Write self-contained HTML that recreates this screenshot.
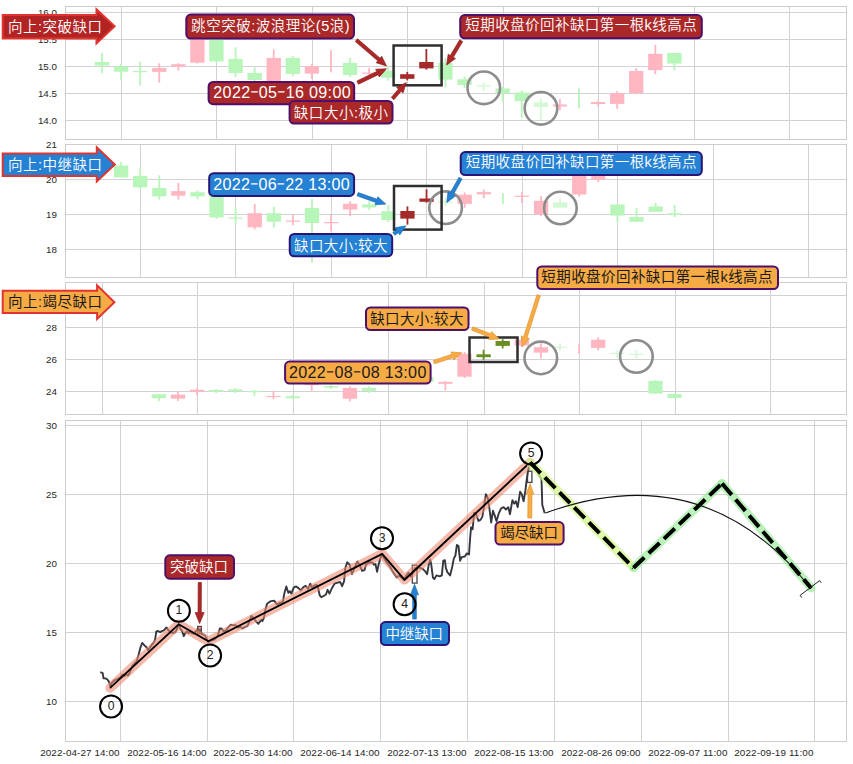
<!DOCTYPE html>
<html><head><meta charset="utf-8"><style>
html,body{margin:0;padding:0;background:#fff;}
svg{display:block;font-family:'Liberation Sans', 'Noto Sans CJK SC', sans-serif;}
</style></head><body>
<svg width="853" height="764" viewBox="0 0 853 764">
<rect width="853" height="764" fill="#fff"/>
<line x1="65.5" y1="12.5" x2="846.5" y2="12.5" stroke="#d2d2d2" stroke-width="1"/>
<text x="57" y="16.0" text-anchor="end" font-size="9.8" fill="#262626">16.0</text>
<line x1="65.5" y1="39.5" x2="846.5" y2="39.5" stroke="#d2d2d2" stroke-width="1"/>
<text x="57" y="43.0" text-anchor="end" font-size="9.8" fill="#262626">15.5</text>
<line x1="65.5" y1="66.5" x2="846.5" y2="66.5" stroke="#d2d2d2" stroke-width="1"/>
<text x="57" y="70.0" text-anchor="end" font-size="9.8" fill="#262626">15.0</text>
<line x1="65.5" y1="93.5" x2="846.5" y2="93.5" stroke="#d2d2d2" stroke-width="1"/>
<text x="57" y="97.0" text-anchor="end" font-size="9.8" fill="#262626">14.5</text>
<line x1="65.5" y1="120.5" x2="846.5" y2="120.5" stroke="#d2d2d2" stroke-width="1"/>
<text x="57" y="124.0" text-anchor="end" font-size="9.8" fill="#262626">14.0</text>
<line x1="121.50" y1="6.5" x2="121.50" y2="139.5" stroke="#d2d2d2" stroke-width="1"/>
<line x1="216.50" y1="6.5" x2="216.50" y2="139.5" stroke="#d2d2d2" stroke-width="1"/>
<line x1="312.50" y1="6.5" x2="312.50" y2="139.5" stroke="#d2d2d2" stroke-width="1"/>
<line x1="407.50" y1="6.5" x2="407.50" y2="139.5" stroke="#d2d2d2" stroke-width="1"/>
<line x1="503.50" y1="6.5" x2="503.50" y2="139.5" stroke="#d2d2d2" stroke-width="1"/>
<line x1="598.50" y1="6.5" x2="598.50" y2="139.5" stroke="#d2d2d2" stroke-width="1"/>
<line x1="694.50" y1="6.5" x2="694.50" y2="139.5" stroke="#d2d2d2" stroke-width="1"/>
<line x1="789.50" y1="6.5" x2="789.50" y2="139.5" stroke="#d2d2d2" stroke-width="1"/>
<rect x="65.5" y="6.5" width="781.0" height="133.0" fill="none" stroke="#cdcdcd" stroke-width="1"/>
<line x1="65.5" y1="144.5" x2="846.5" y2="144.5" stroke="#d2d2d2" stroke-width="1"/>
<text x="57" y="148.0" text-anchor="end" font-size="9.8" fill="#262626">21</text>
<line x1="65.5" y1="179.5" x2="846.5" y2="179.5" stroke="#d2d2d2" stroke-width="1"/>
<text x="57" y="183.0" text-anchor="end" font-size="9.8" fill="#262626">20</text>
<line x1="65.5" y1="214.5" x2="846.5" y2="214.5" stroke="#d2d2d2" stroke-width="1"/>
<text x="57" y="218.0" text-anchor="end" font-size="9.8" fill="#262626">19</text>
<line x1="65.5" y1="249.5" x2="846.5" y2="249.5" stroke="#d2d2d2" stroke-width="1"/>
<text x="57" y="253.0" text-anchor="end" font-size="9.8" fill="#262626">18</text>
<line x1="140.50" y1="144.5" x2="140.50" y2="277.5" stroke="#d2d2d2" stroke-width="1"/>
<line x1="235.50" y1="144.5" x2="235.50" y2="277.5" stroke="#d2d2d2" stroke-width="1"/>
<line x1="331.50" y1="144.5" x2="331.50" y2="277.5" stroke="#d2d2d2" stroke-width="1"/>
<line x1="426.50" y1="144.5" x2="426.50" y2="277.5" stroke="#d2d2d2" stroke-width="1"/>
<line x1="522.50" y1="144.5" x2="522.50" y2="277.5" stroke="#d2d2d2" stroke-width="1"/>
<line x1="617.50" y1="144.5" x2="617.50" y2="277.5" stroke="#d2d2d2" stroke-width="1"/>
<line x1="713.50" y1="144.5" x2="713.50" y2="277.5" stroke="#d2d2d2" stroke-width="1"/>
<line x1="808.50" y1="144.5" x2="808.50" y2="277.5" stroke="#d2d2d2" stroke-width="1"/>
<rect x="65.5" y="144.5" width="781.0" height="133.0" fill="none" stroke="#cdcdcd" stroke-width="1"/>
<line x1="65.5" y1="295.5" x2="846.5" y2="295.5" stroke="#d2d2d2" stroke-width="1"/>
<text x="57" y="299.0" text-anchor="end" font-size="9.8" fill="#262626">30</text>
<line x1="65.5" y1="327.5" x2="846.5" y2="327.5" stroke="#d2d2d2" stroke-width="1"/>
<text x="57" y="331.0" text-anchor="end" font-size="9.8" fill="#262626">28</text>
<line x1="65.5" y1="359.5" x2="846.5" y2="359.5" stroke="#d2d2d2" stroke-width="1"/>
<text x="57" y="363.0" text-anchor="end" font-size="9.8" fill="#262626">26</text>
<line x1="65.5" y1="391.5" x2="846.5" y2="391.5" stroke="#d2d2d2" stroke-width="1"/>
<text x="57" y="395.0" text-anchor="end" font-size="9.8" fill="#262626">24</text>
<line x1="102.50" y1="282.5" x2="102.50" y2="414.5" stroke="#d2d2d2" stroke-width="1"/>
<line x1="197.50" y1="282.5" x2="197.50" y2="414.5" stroke="#d2d2d2" stroke-width="1"/>
<line x1="293.50" y1="282.5" x2="293.50" y2="414.5" stroke="#d2d2d2" stroke-width="1"/>
<line x1="388.50" y1="282.5" x2="388.50" y2="414.5" stroke="#d2d2d2" stroke-width="1"/>
<line x1="484.50" y1="282.5" x2="484.50" y2="414.5" stroke="#d2d2d2" stroke-width="1"/>
<line x1="579.50" y1="282.5" x2="579.50" y2="414.5" stroke="#d2d2d2" stroke-width="1"/>
<line x1="675.50" y1="282.5" x2="675.50" y2="414.5" stroke="#d2d2d2" stroke-width="1"/>
<line x1="770.50" y1="282.5" x2="770.50" y2="414.5" stroke="#d2d2d2" stroke-width="1"/>
<rect x="65.5" y="282.5" width="781.0" height="132.0" fill="none" stroke="#cdcdcd" stroke-width="1"/>
<line x1="65.5" y1="425.5" x2="846.5" y2="425.5" stroke="#d2d2d2" stroke-width="1"/>
<text x="57" y="429.0" text-anchor="end" font-size="9.8" fill="#262626">30</text>
<line x1="65.5" y1="494.5" x2="846.5" y2="494.5" stroke="#d2d2d2" stroke-width="1"/>
<text x="57" y="498.0" text-anchor="end" font-size="9.8" fill="#262626">25</text>
<line x1="65.5" y1="563.5" x2="846.5" y2="563.5" stroke="#d2d2d2" stroke-width="1"/>
<text x="57" y="567.0" text-anchor="end" font-size="9.8" fill="#262626">20</text>
<line x1="65.5" y1="632.5" x2="846.5" y2="632.5" stroke="#d2d2d2" stroke-width="1"/>
<text x="57" y="636.0" text-anchor="end" font-size="9.8" fill="#262626">15</text>
<line x1="65.5" y1="701.5" x2="846.5" y2="701.5" stroke="#d2d2d2" stroke-width="1"/>
<text x="57" y="705.0" text-anchor="end" font-size="9.8" fill="#262626">10</text>
<line x1="120.50" y1="420.5" x2="120.50" y2="741.5" stroke="#d2d2d2" stroke-width="1"/>
<line x1="207.50" y1="420.5" x2="207.50" y2="741.5" stroke="#d2d2d2" stroke-width="1"/>
<line x1="293.50" y1="420.5" x2="293.50" y2="741.5" stroke="#d2d2d2" stroke-width="1"/>
<line x1="380.50" y1="420.5" x2="380.50" y2="741.5" stroke="#d2d2d2" stroke-width="1"/>
<line x1="467.50" y1="420.5" x2="467.50" y2="741.5" stroke="#d2d2d2" stroke-width="1"/>
<line x1="554.50" y1="420.5" x2="554.50" y2="741.5" stroke="#d2d2d2" stroke-width="1"/>
<line x1="641.50" y1="420.5" x2="641.50" y2="741.5" stroke="#d2d2d2" stroke-width="1"/>
<line x1="728.50" y1="420.5" x2="728.50" y2="741.5" stroke="#d2d2d2" stroke-width="1"/>
<line x1="814.50" y1="420.5" x2="814.50" y2="741.5" stroke="#d2d2d2" stroke-width="1"/>
<rect x="65.5" y="420.5" width="781.0" height="321.0" fill="none" stroke="#cdcdcd" stroke-width="1"/>
<text x="40.2" y="756" font-size="9.9" fill="#262626" textLength="79.3" lengthAdjust="spacing">2022-04-27 14:00</text>
<text x="127.2" y="756" font-size="9.9" fill="#262626" textLength="79.3" lengthAdjust="spacing">2022-05-16 14:00</text>
<text x="213.2" y="756" font-size="9.9" fill="#262626" textLength="79.3" lengthAdjust="spacing">2022-05-30 14:00</text>
<text x="300.2" y="756" font-size="9.9" fill="#262626" textLength="79.3" lengthAdjust="spacing">2022-06-14 14:00</text>
<text x="387.2" y="756" font-size="9.9" fill="#262626" textLength="79.3" lengthAdjust="spacing">2022-07-13 13:00</text>
<text x="474.2" y="756" font-size="9.9" fill="#262626" textLength="79.3" lengthAdjust="spacing">2022-08-15 13:00</text>
<text x="561.2" y="756" font-size="9.9" fill="#262626" textLength="79.3" lengthAdjust="spacing">2022-08-26 09:00</text>
<text x="648.2" y="756" font-size="9.9" fill="#262626" textLength="79.3" lengthAdjust="spacing">2022-09-07 11:00</text>
<text x="734.2" y="756" font-size="9.9" fill="#262626" textLength="79.3" lengthAdjust="spacing">2022-09-19 11:00</text>
<rect x="101.10" y="53.2" width="1.8" height="20.00" fill="#b8f5b8"/>
<rect x="94.85" y="62" width="14.3" height="3.50" fill="#b8f5b8"/>
<rect x="120.18" y="63.8" width="1.8" height="15.80" fill="#b8f5b8"/>
<rect x="113.93" y="66.7" width="14.3" height="5.00" fill="#b8f5b8"/>
<rect x="139.26" y="61.6" width="1.8" height="23.80" fill="#b8f5b8"/>
<rect x="133.01" y="71" width="14.3" height="1.20" fill="#b8f5b8"/>
<rect x="158.34" y="63.3" width="1.8" height="19.30" fill="#ffb6c1"/>
<rect x="152.09" y="68" width="14.3" height="3.90" fill="#ffb6c1"/>
<rect x="177.42" y="63.3" width="1.8" height="7.30" fill="#ffb6c1"/>
<rect x="171.17" y="64.2" width="14.3" height="2.30" fill="#ffb6c1"/>
<rect x="196.50" y="38" width="1.8" height="25.50" fill="#ffb6c1"/>
<rect x="190.25" y="38" width="14.3" height="24.70" fill="#ffb6c1"/>
<rect x="215.58" y="38" width="1.8" height="24.70" fill="#b8f5b8"/>
<rect x="209.33" y="38" width="14.3" height="23.40" fill="#b8f5b8"/>
<rect x="234.66" y="47.3" width="1.8" height="29.60" fill="#b8f5b8"/>
<rect x="228.41" y="58.9" width="14.3" height="14.10" fill="#b8f5b8"/>
<rect x="253.74" y="67.2" width="1.8" height="15.80" fill="#b8f5b8"/>
<rect x="247.49" y="73" width="14.3" height="7.00" fill="#b8f5b8"/>
<rect x="272.82" y="49.5" width="1.8" height="33.50" fill="#ffb6c1"/>
<rect x="266.57" y="57.9" width="14.3" height="23.10" fill="#ffb6c1"/>
<rect x="291.90" y="56" width="1.8" height="20.40" fill="#b8f5b8"/>
<rect x="285.65" y="57.9" width="14.3" height="16.00" fill="#b8f5b8"/>
<rect x="310.98" y="64" width="1.8" height="15.20" fill="#ffb6c1"/>
<rect x="304.73" y="66.2" width="14.3" height="7.40" fill="#ffb6c1"/>
<rect x="330.06" y="50.2" width="1.8" height="22.10" fill="#ffb6c1"/>
<rect x="349.14" y="57.9" width="1.8" height="19.00" fill="#b8f5b8"/>
<rect x="342.89" y="62.9" width="14.3" height="12.00" fill="#b8f5b8"/>
<rect x="368.22" y="67.8" width="1.8" height="7.20" fill="#ffb6c1"/>
<rect x="361.97" y="72.6" width="14.3" height="1.20" fill="#ffb6c1"/>
<rect x="387.30" y="67" width="1.8" height="13.70" fill="#b8f5b8"/>
<rect x="381.05" y="70.8" width="14.3" height="6.90" fill="#b8f5b8"/>
<rect x="406.38" y="71.9" width="1.8" height="8.40" fill="#a52a2a"/>
<rect x="400.13" y="74.2" width="14.3" height="4.60" fill="#a52a2a"/>
<rect x="425.46" y="49" width="1.8" height="20.60" fill="#a52a2a"/>
<rect x="419.21" y="62" width="14.3" height="6.40" fill="#a52a2a"/>
<rect x="444.54" y="58" width="1.8" height="29.20" fill="#b8f5b8"/>
<rect x="438.29" y="62.9" width="14.3" height="16.70" fill="#b8f5b8"/>
<rect x="463.62" y="76.6" width="1.8" height="11.40" fill="#b8f5b8"/>
<rect x="457.37" y="79.3" width="14.3" height="5.70" fill="#b8f5b8"/>
<rect x="482.70" y="82.7" width="1.8" height="8.30" fill="#d4f8d4"/>
<rect x="476.45" y="85.2" width="14.3" height="1.20" fill="#d4f8d4"/>
<rect x="501.78" y="87.2" width="1.8" height="14.50" fill="#b8f5b8"/>
<rect x="495.53" y="88.5" width="14.3" height="4.80" fill="#b8f5b8"/>
<rect x="520.86" y="90.3" width="1.8" height="27.40" fill="#b8f5b8"/>
<rect x="514.61" y="92.6" width="14.3" height="8.40" fill="#b8f5b8"/>
<rect x="539.94" y="98.7" width="1.8" height="21.30" fill="#d4f8d4"/>
<rect x="533.69" y="102.5" width="14.3" height="4.50" fill="#d4f8d4"/>
<rect x="559.02" y="98.9" width="1.8" height="11.50" fill="#ffb6c1"/>
<rect x="552.77" y="104.5" width="14.3" height="2.00" fill="#ffb6c1"/>
<rect x="578.10" y="88.3" width="1.8" height="20.20" fill="#b8f5b8"/>
<rect x="597.18" y="100.6" width="1.8" height="5.70" fill="#ffb6c1"/>
<rect x="590.93" y="102" width="14.3" height="2.00" fill="#ffb6c1"/>
<rect x="616.26" y="91.1" width="1.8" height="17.70" fill="#ffb6c1"/>
<rect x="610.01" y="93.2" width="14.3" height="10.70" fill="#ffb6c1"/>
<rect x="635.34" y="68.1" width="1.8" height="26.20" fill="#ffb6c1"/>
<rect x="629.09" y="71" width="14.3" height="22.20" fill="#ffb6c1"/>
<rect x="654.42" y="44.8" width="1.8" height="29.50" fill="#ffb6c1"/>
<rect x="648.17" y="53.8" width="14.3" height="16.40" fill="#ffb6c1"/>
<rect x="673.50" y="53" width="1.8" height="17.20" fill="#b8f5b8"/>
<rect x="667.25" y="53" width="14.3" height="10.60" fill="#b8f5b8"/>
<rect x="120.20" y="162" width="1.8" height="15.40" fill="#b8f5b8"/>
<rect x="113.95" y="165.5" width="14.3" height="11.90" fill="#b8f5b8"/>
<rect x="139.29" y="168.3" width="1.8" height="20.70" fill="#b8f5b8"/>
<rect x="133.04" y="176" width="14.3" height="11.30" fill="#b8f5b8"/>
<rect x="158.38" y="175.3" width="1.8" height="24.20" fill="#b8f5b8"/>
<rect x="152.13" y="188" width="14.3" height="8.40" fill="#b8f5b8"/>
<rect x="177.47" y="183" width="1.8" height="16.50" fill="#ffb6c1"/>
<rect x="171.22" y="191.1" width="14.3" height="4.60" fill="#ffb6c1"/>
<rect x="196.56" y="190.5" width="1.8" height="8.70" fill="#b8f5b8"/>
<rect x="190.31" y="192.2" width="14.3" height="4.20" fill="#b8f5b8"/>
<rect x="215.65" y="196" width="1.8" height="23.00" fill="#b8f5b8"/>
<rect x="209.40" y="196" width="14.3" height="21.40" fill="#b8f5b8"/>
<rect x="234.74" y="208.3" width="1.8" height="15.50" fill="#b8f5b8"/>
<rect x="228.49" y="217.5" width="14.3" height="1.20" fill="#b8f5b8"/>
<rect x="253.83" y="204.1" width="1.8" height="25.30" fill="#ffb6c1"/>
<rect x="247.58" y="213.2" width="14.3" height="14.10" fill="#ffb6c1"/>
<rect x="272.92" y="206.9" width="1.8" height="20.40" fill="#b8f5b8"/>
<rect x="266.67" y="213.2" width="14.3" height="8.50" fill="#b8f5b8"/>
<rect x="292.01" y="214.6" width="1.8" height="10.60" fill="#ffb6c1"/>
<rect x="285.76" y="220.5" width="14.3" height="1.20" fill="#ffb6c1"/>
<rect x="311.10" y="198.75" width="1.8" height="63.75" fill="#b8f5b8"/>
<rect x="304.85" y="208" width="14.3" height="15.00" fill="#b8f5b8"/>
<rect x="330.19" y="214.5" width="1.8" height="16.75" fill="#ffb6c1"/>
<rect x="323.94" y="222" width="14.3" height="1.20" fill="#ffb6c1"/>
<rect x="349.28" y="201.25" width="1.8" height="15.00" fill="#ffb6c1"/>
<rect x="343.03" y="203.75" width="14.3" height="5.75" fill="#ffb6c1"/>
<rect x="368.37" y="201" width="1.8" height="9.00" fill="#b8f5b8"/>
<rect x="362.12" y="204.5" width="14.3" height="3.00" fill="#b8f5b8"/>
<rect x="387.46" y="205" width="1.8" height="17.00" fill="#b8f5b8"/>
<rect x="381.21" y="211.25" width="14.3" height="8.75" fill="#b8f5b8"/>
<rect x="406.55" y="206.4" width="1.8" height="18.30" fill="#a52a2a"/>
<rect x="400.30" y="211" width="14.3" height="7.60" fill="#a52a2a"/>
<rect x="425.64" y="189.3" width="1.8" height="13.30" fill="#a52a2a"/>
<rect x="419.39" y="198.5" width="14.3" height="3.30" fill="#a52a2a"/>
<rect x="444.73" y="198" width="1.8" height="8.00" fill="#d4f8d4"/>
<rect x="438.48" y="201.5" width="14.3" height="1.50" fill="#d4f8d4"/>
<rect x="463.82" y="192.4" width="1.8" height="15.30" fill="#ffb6c1"/>
<rect x="457.57" y="194.7" width="14.3" height="9.20" fill="#ffb6c1"/>
<rect x="482.91" y="189.4" width="1.8" height="8.80" fill="#ffb6c1"/>
<rect x="476.66" y="192.1" width="14.3" height="2.20" fill="#ffb6c1"/>
<rect x="502.00" y="193.2" width="1.8" height="10.70" fill="#b8f5b8"/>
<rect x="521.09" y="192.4" width="1.8" height="10.70" fill="#ffb6c1"/>
<rect x="514.84" y="195.7" width="14.3" height="1.20" fill="#ffb6c1"/>
<rect x="540.18" y="196.2" width="1.8" height="19.80" fill="#ffb6c1"/>
<rect x="533.93" y="200.8" width="14.3" height="13.70" fill="#ffb6c1"/>
<rect x="559.27" y="198.5" width="1.8" height="9.20" fill="#d4f8d4"/>
<rect x="553.02" y="202.3" width="14.3" height="5.40" fill="#d4f8d4"/>
<rect x="578.36" y="176" width="1.8" height="20.60" fill="#ffb6c1"/>
<rect x="572.11" y="176" width="14.3" height="18.50" fill="#ffb6c1"/>
<rect x="597.45" y="175" width="1.8" height="7.10" fill="#ffb6c1"/>
<rect x="591.20" y="176" width="14.3" height="3.50" fill="#ffb6c1"/>
<rect x="616.54" y="204.5" width="1.8" height="18.00" fill="#b8f5b8"/>
<rect x="610.29" y="204.5" width="14.3" height="11.10" fill="#b8f5b8"/>
<rect x="635.63" y="208" width="1.8" height="13.70" fill="#b8f5b8"/>
<rect x="629.38" y="217.1" width="14.3" height="4.60" fill="#b8f5b8"/>
<rect x="654.72" y="202.7" width="1.8" height="9.10" fill="#b8f5b8"/>
<rect x="648.47" y="206.5" width="14.3" height="5.30" fill="#b8f5b8"/>
<rect x="673.81" y="205" width="1.8" height="12.10" fill="#b8f5b8"/>
<rect x="667.56" y="213.3" width="14.3" height="1.60" fill="#b8f5b8"/>
<rect x="158.00" y="394" width="1.8" height="7.20" fill="#b8f5b8"/>
<rect x="151.75" y="394.3" width="14.3" height="3.90" fill="#b8f5b8"/>
<rect x="177.10" y="391.3" width="1.8" height="9.60" fill="#ffb6c1"/>
<rect x="170.85" y="394.6" width="14.3" height="4.10" fill="#ffb6c1"/>
<rect x="196.20" y="387.7" width="1.8" height="7.70" fill="#ffb6c1"/>
<rect x="189.95" y="389.7" width="14.3" height="2.00" fill="#ffb6c1"/>
<rect x="215.30" y="389" width="1.8" height="4.00" fill="#b8f5b8"/>
<rect x="209.05" y="390" width="14.3" height="1.70" fill="#b8f5b8"/>
<rect x="234.40" y="388" width="1.8" height="5.00" fill="#b8f5b8"/>
<rect x="228.15" y="389.4" width="14.3" height="1.90" fill="#b8f5b8"/>
<rect x="253.50" y="390" width="1.8" height="6.00" fill="#b8f5b8"/>
<rect x="247.25" y="391" width="14.3" height="1.20" fill="#b8f5b8"/>
<rect x="272.60" y="390.9" width="1.8" height="8.40" fill="#ffb6c1"/>
<rect x="266.35" y="395.9" width="14.3" height="1.20" fill="#ffb6c1"/>
<rect x="291.70" y="395" width="1.8" height="4.00" fill="#b8f5b8"/>
<rect x="285.45" y="396.3" width="14.3" height="2.00" fill="#b8f5b8"/>
<rect x="310.80" y="380" width="1.8" height="10.90" fill="#ffb6c1"/>
<rect x="304.55" y="380" width="14.3" height="5.10" fill="#ffb6c1"/>
<rect x="329.90" y="385" width="1.8" height="4.20" fill="#b8f5b8"/>
<rect x="323.65" y="386" width="14.3" height="1.60" fill="#b8f5b8"/>
<rect x="349.00" y="386.3" width="1.8" height="15.20" fill="#ffb6c1"/>
<rect x="342.75" y="387.9" width="14.3" height="10.90" fill="#ffb6c1"/>
<rect x="368.10" y="386.3" width="1.8" height="6.50" fill="#b8f5b8"/>
<rect x="361.85" y="387.9" width="14.3" height="3.00" fill="#b8f5b8"/>
<rect x="425.40" y="375" width="1.8" height="9.00" fill="#b8f5b8"/>
<rect x="419.15" y="377" width="14.3" height="5.00" fill="#b8f5b8"/>
<rect x="444.50" y="381" width="1.8" height="9.40" fill="#ffb6c1"/>
<rect x="438.25" y="381.9" width="14.3" height="1.90" fill="#ffb6c1"/>
<rect x="463.60" y="352" width="1.8" height="26.00" fill="#ffb6c1"/>
<rect x="457.35" y="353.8" width="14.3" height="22.90" fill="#ffb6c1"/>
<rect x="482.70" y="349.7" width="1.8" height="10.10" fill="#6b8e23"/>
<rect x="476.45" y="354.3" width="14.3" height="2.90" fill="#6b8e23"/>
<rect x="501.80" y="339.1" width="1.8" height="9.40" fill="#6b8e23"/>
<rect x="495.55" y="341" width="14.3" height="4.90" fill="#6b8e23"/>
<rect x="520.90" y="338" width="1.8" height="9.00" fill="#ffb6c1"/>
<rect x="514.65" y="339.7" width="14.3" height="5.90" fill="#ffb6c1"/>
<rect x="540.00" y="343.2" width="1.8" height="15.30" fill="#ffb6c1"/>
<rect x="533.75" y="347.2" width="14.3" height="5.40" fill="#ffb6c1"/>
<rect x="559.10" y="343.2" width="1.8" height="7.10" fill="#d4f8d4"/>
<rect x="552.85" y="346.7" width="14.3" height="1.20" fill="#d4f8d4"/>
<rect x="578.20" y="344.4" width="1.8" height="9.40" fill="#ffb6c1"/>
<rect x="597.30" y="337.4" width="1.8" height="12.90" fill="#ffb6c1"/>
<rect x="591.05" y="339.7" width="14.3" height="8.20" fill="#ffb6c1"/>
<rect x="616.40" y="350.3" width="1.8" height="8.20" fill="#d4f8d4"/>
<rect x="610.15" y="352.8" width="14.3" height="1.20" fill="#d4f8d4"/>
<rect x="635.50" y="350.3" width="1.8" height="7.70" fill="#d4f8d4"/>
<rect x="629.25" y="353.8" width="14.3" height="1.20" fill="#d4f8d4"/>
<rect x="654.60" y="380" width="1.8" height="14.00" fill="#b8f5b8"/>
<rect x="648.35" y="380.8" width="14.3" height="12.80" fill="#b8f5b8"/>
<rect x="673.70" y="393" width="1.8" height="5.50" fill="#b8f5b8"/>
<rect x="667.45" y="394.1" width="14.3" height="3.80" fill="#b8f5b8"/>
<circle cx="483.8" cy="87.8" r="16.3" fill="none" stroke="#8c8c8c" stroke-width="2.6"/>
<circle cx="541" cy="108.3" r="16.3" fill="none" stroke="#8c8c8c" stroke-width="2.6"/>
<circle cx="445.6" cy="207.7" r="16.3" fill="none" stroke="#8c8c8c" stroke-width="2.6"/>
<circle cx="560.4" cy="208" r="16.3" fill="none" stroke="#8c8c8c" stroke-width="2.6"/>
<circle cx="540.8" cy="357.9" r="16.3" fill="none" stroke="#8c8c8c" stroke-width="2.6"/>
<circle cx="636.4" cy="356.5" r="16.3" fill="none" stroke="#8c8c8c" stroke-width="2.6"/>
<rect x="393.6" y="45.5" width="48.00" height="39.80" fill="none" stroke="#2e2e2e" stroke-width="2.5"/>
<rect x="394" y="186" width="47.60" height="43.60" fill="none" stroke="#2e2e2e" stroke-width="2.5"/>
<rect x="469.5" y="337.5" width="48.00" height="24.50" fill="none" stroke="#2e2e2e" stroke-width="2.5"/>
<polygon points="355.26,41.43 377.78,60.80 376.15,62.70 386.50,66.00 381.69,56.26 380.06,58.15 357.54,38.77" fill="#ab2828" stroke="#8f1f1f" stroke-width="0.7" stroke-linejoin="miter"/>
<polygon points="358.46,84.18 378.24,74.70 379.32,76.95 386.50,68.80 375.65,69.29 376.73,71.54 356.94,81.02" fill="#ab2828" stroke="#8f1f1f" stroke-width="0.7" stroke-linejoin="miter"/>
<polygon points="393.93,99.74 401.13,91.33 403.02,92.96 406.30,82.60 396.57,87.43 398.47,89.06 391.27,97.46" fill="#ab2828" stroke="#8f1f1f" stroke-width="0.7" stroke-linejoin="miter"/>
<polygon points="459.70,39.80 450.32,55.52 448.17,54.23 446.70,65.00 455.47,58.59 453.33,57.31 462.70,41.60" fill="#ab2828" stroke="#8f1f1f" stroke-width="0.7" stroke-linejoin="miter"/>
<rect x="186.3" y="14.6" width="167.70" height="23.90" rx="4.5" fill="#ab2828" stroke="#4d0f6b" stroke-width="2"/>
<text x="191.10" y="31.41" font-size="14.5" fill="#fff" textLength="158.6" lengthAdjust="spacing" font-weight="350">跳空突破:波浪理论(5浪)</text>
<rect x="208.6" y="81.9" width="145.60" height="22.30" rx="4.5" fill="#ab2828" stroke="#4d0f6b" stroke-width="2"/>
<text x="213.35" y="98.26" font-size="16.1" fill="#fff" textLength="137.3" lengthAdjust="spacing" font-weight="350">2022<tspan font-family="IPAGothic, sans-serif">-</tspan>05<tspan font-family="IPAGothic, sans-serif">-</tspan>16 09:00</text>
<rect x="289.6" y="101" width="102.90" height="22.50" rx="4.5" fill="#ab2828" stroke="#4d0f6b" stroke-width="2"/>
<text x="293.80" y="118.21" font-size="14.5" fill="#fff" textLength="94.3" lengthAdjust="spacing" font-weight="350">缺口大小:极小</text>
<rect x="460.2" y="15.1" width="241.60" height="23.20" rx="4.5" fill="#ab2828" stroke="#4d0f6b" stroke-width="2"/>
<text x="465.30" y="30.46" font-size="14.5" fill="#fff" textLength="231.4" lengthAdjust="spacing" font-weight="350">短期收盘价回补缺口第一根k线高点</text>
<polygon points="357.02,195.85 375.78,202.44 374.96,204.80 385.80,204.10 377.77,196.78 376.94,199.14 358.18,192.55" fill="#2581d3" stroke="#1d6db5" stroke-width="0.7" stroke-linejoin="miter"/>
<polygon points="394.77,235.26 398.45,232.80 399.84,234.88 405.80,225.80 395.12,227.81 396.51,229.89 392.83,232.34" fill="#2581d3" stroke="#1d6db5" stroke-width="0.7" stroke-linejoin="miter"/>
<polygon points="458.97,177.34 450.17,193.02 447.99,191.80 446.80,202.60 455.40,195.96 453.22,194.74 462.03,179.06" fill="#2581d3" stroke="#1d6db5" stroke-width="0.7" stroke-linejoin="miter"/>
<rect x="209.2" y="173.2" width="144.90" height="22.70" rx="4.5" fill="#2581d3" stroke="#2a1577" stroke-width="2"/>
<text x="213.30" y="189.76" font-size="16.1" fill="#fff" textLength="136.3" lengthAdjust="spacing" font-weight="350">2022<tspan font-family="IPAGothic, sans-serif">-</tspan>06<tspan font-family="IPAGothic, sans-serif">-</tspan>22 13:00</text>
<rect x="289.75" y="234" width="102.45" height="22.30" rx="4.5" fill="#2581d3" stroke="#2a1577" stroke-width="2"/>
<text x="294.00" y="250.76" font-size="14.5" fill="#fff" textLength="93.5" lengthAdjust="spacing" font-weight="350">缺口大小:较大</text>
<rect x="460.7" y="152.1" width="241.10" height="22.90" rx="4.5" fill="#2581d3" stroke="#2a1577" stroke-width="2"/>
<text x="465.80" y="167.21" font-size="14.5" fill="#fff" textLength="230.7" lengthAdjust="spacing" font-weight="350">短期收盘价回补缺口第一根k线高点</text>
<polygon points="471.56,330.13 489.45,337.10 488.54,339.43 499.40,339.10 491.63,331.51 490.72,333.84 472.84,326.87" fill="#f7ab45" stroke="#e0952f" stroke-width="0.7" stroke-linejoin="miter"/>
<polygon points="434.36,363.86 452.97,357.63 453.76,360.00 461.90,352.80 451.07,351.94 451.86,354.31 433.24,360.54" fill="#f7ab45" stroke="#e0952f" stroke-width="0.7" stroke-linejoin="miter"/>
<polygon points="537.03,294.67 523.66,336.74 521.28,335.98 522.30,346.80 529.38,338.56 527.00,337.80 540.37,295.73" fill="#f7ab45" stroke="#e0952f" stroke-width="0.7" stroke-linejoin="miter"/>
<rect x="366" y="307.4" width="102.50" height="22.70" rx="4.5" fill="#f7ab45" stroke="#4d0f6b" stroke-width="2"/>
<text x="370.20" y="323.81" font-size="14.5" fill="#1a1a1a" textLength="93.2" lengthAdjust="spacing" font-weight="400">缺口大小:较大</text>
<rect x="285.1" y="361.6" width="145.50" height="22.00" rx="4.5" fill="#f7ab45" stroke="#4d0f6b" stroke-width="2"/>
<text x="288.95" y="377.81" font-size="16.1" fill="#1a1a1a" textLength="137.4" lengthAdjust="spacing" font-weight="400">2022<tspan font-family="IPAGothic, sans-serif">-</tspan>08<tspan font-family="IPAGothic, sans-serif">-</tspan>08 13:00</text>
<rect x="537.3" y="266.4" width="240.70" height="22.70" rx="4.5" fill="#f7ab45" stroke="#4d0f6b" stroke-width="2"/>
<text x="541.30" y="282.21" font-size="14.5" fill="#1a1a1a" textLength="231.2" lengthAdjust="spacing" font-weight="400">短期收盘价回补缺口第一根k线高点</text>
<polygon points="2.70,15.00 96.50,15.00 96.50,9.40 114.60,26.30 96.50,43.50 96.50,38.40 2.70,38.40" fill="#b22424" stroke="#e0352f" stroke-width="2" stroke-linejoin="miter"/>
<text x="8.10" y="31.76" font-size="14.5" fill="#fff" textLength="94.0" lengthAdjust="spacing" font-weight="350">向上:突破缺口</text>
<polygon points="2.70,153.40 96.80,153.40 96.80,147.40 114.80,164.60 96.80,181.40 96.80,175.90 2.70,175.90" fill="#2581d3" stroke="#e0352f" stroke-width="2" stroke-linejoin="miter"/>
<text x="8.10" y="169.71" font-size="14.5" fill="#fff" textLength="94.0" lengthAdjust="spacing" font-weight="350">向上:中继缺口</text>
<polygon points="2.70,290.80 97.10,290.80 97.10,285.30 114.40,302.20 97.10,319.00 97.10,313.00 2.70,313.00" fill="#f7ab45" stroke="#e0352f" stroke-width="2" stroke-linejoin="miter"/>
<text x="8.10" y="306.96" font-size="14.5" fill="#1a1a1a" textLength="94.0" lengthAdjust="spacing" font-weight="400">向上:竭尽缺口</text>
<rect x="197.6" y="626.4" width="3.70" height="7.40" fill="#f3d6d6" stroke="#4a3030" stroke-width="1.1"/>
<rect x="412.3" y="565.2" width="4.70" height="17.90" fill="#fff" stroke="#444" stroke-width="1.3"/>
<rect x="527.5" y="471.2" width="4.40" height="11.20" fill="#fff" stroke="#444" stroke-width="1.3"/>
<polyline points="100.3,672.2 102.7,673.1 103.5,678.4 105.6,678.4 107.4,679.5 109.1,681.9 110.6,687.8 111.5,683.1 113.9,680.7 116.2,679.5 118.6,678.4 120.3,677.2 122.7,674.6 124.5,676 126.2,674.2 128,675.4 129.8,672.5 132.7,665.4 135.1,663 136.8,660.7 138.6,654.8 140.4,647.7 142.2,643 144.5,645.4 146.9,647.7 148,650.1 149.8,647.7 151.6,645.4 152.4,644 153.9,642.4 155.1,639.7 156.3,631.4 157.9,631 160.2,632.2 161.8,631 163.4,630.6 164.5,629.8 165.3,628.7 166.5,627.5 168.1,629.8 170.4,632.2 172.8,633 175.1,632.2 176.7,629.8 177.9,625.9 178.7,624.3 179.5,626.7 180.6,629.1 182.2,631.4 183.8,636.1 185.3,633 186.9,631.4 188.5,633 190.1,631.4 191.6,633 194,633.8 195.6,631.4 197.1,629.8 198.2,628.2 199.6,633.4 200.6,629.5 201.6,633.8 205,635.3 208.1,641.8 211.3,640.3 214.4,639.5 217.6,636.3 219.9,628.5 221.5,628.5 223.8,631.6 226.2,630.1 228.6,626.9 230.9,624.6 233.3,625.3 235.6,625.3 238,627.7 240.3,626.9 242.7,628.5 245.1,626.9 247.4,626.1 249.8,620.6 251.3,615.9 253.7,618.3 256,621.4 258.4,623.8 260,621.4 261.5,619.8 262.4,621 263.9,617.9 265.5,609.3 267.1,603.8 270.2,601.4 274.1,600.6 277.3,604.6 279.6,603 282.8,602.2 284.3,593.6 286.3,586.5 288.3,592.8 289.8,591.2 291.4,593.6 293.8,587.3 296.1,586.5 298.5,588.1 300.8,590.4 303.2,587.3 305.6,585.7 307.9,588.8 310.3,583.7 311.8,587.3 314.2,585.7 316.5,584.9 318.1,588 319.7,595.3 321.3,597.2 323.6,596 326,594.5 327.6,589.8 329.5,593.7 331.5,589 334.6,583.5 337.8,582.7 340.1,581.9 342.1,586.2 344.1,581.1 345.2,568.6 347.2,562.3 349.6,564.6 351.9,574.1 354.3,568.6 357.4,561.5 359.8,565.4 362.1,570.9 364.5,570.1 366,564.6 369.2,562.3 372.4,562.5 373.9,564.8 375.5,564.1 377.1,571.9 378.6,564.8 380.2,558.6 381.8,554.6 383.4,557 385.7,560.9 388.1,564.1 390.4,567.2 392.8,571.9 395.1,575.1 396.7,577.4 399.1,575.8 401.4,577.4 403.8,579.8 406.1,575.8 408.5,572.7 410.8,576.6 413.2,572.7 414.8,568 416.3,570.3 417.9,567.2 420.3,568 422.6,568.8 425,571.1 427.1,574.3 428.7,564.9 430.2,559.7 431.3,564.9 432.9,577.5 434.4,579.1 436.5,575.4 439.7,576.4 441.8,575.4 443.3,560.7 444.9,560.2 445.9,568.1 447.5,572.3 450.1,575.4 452.2,567 453.8,558.6 455.4,555.5 456.9,545 458.5,546.1 460.1,560.7 461.6,557.1 464.8,556.5 466.9,553.4 469,554.5 470,539.8 471.1,527.2 472.6,529.3 473.4,520.9 474.2,512.6 476.3,514.7 478.4,520.9 480.5,519.9 482.4,516.6 484.1,506 485.9,494.2 487.7,497.7 489.4,508.3 491.2,522.5 493,510.7 494.7,515.4 496.5,521.3 498.9,513.1 501.2,508.3 503.6,507.2 505.9,509.5 508.3,507.2 510,514.2 512.4,500.1 514.2,503.6 515.9,501.3 517.7,507.2 520.1,491.8 521.8,494.2 523.6,501.3 525.4,490.7 526.5,481.2 527.7,473 528.9,467.1 530.3,463 534,466 541.5,479.3 542.3,505 544.7,513.2" fill="none" stroke="#34383e" stroke-width="1.9" stroke-linejoin="round"/>
<rect x="197.6" y="626.9" width="3.7" height="6.9" fill="#e07a6a" fill-opacity="0.45"/>
<polyline points="110.1,687.9 178.7,624.3 208.3,641.3 382.2,553.8 404.6,579.8 530.1,462.4" fill="none" stroke="#ef8870" stroke-opacity="0.58" stroke-width="9.5" stroke-linejoin="round" stroke-linecap="round"/>
<polyline points="110.1,687.9 178.7,624.3 208.3,641.3 382.2,553.8 404.6,579.8 530.1,462.4" fill="none" stroke="#000" stroke-width="1.85" stroke-linejoin="miter"/>
<line x1="530.1" y1="462.4" x2="633.5" y2="567.8" stroke="#d2f78c" stroke-opacity="0.75" stroke-width="8.5" stroke-linecap="round"/>
<line x1="633.5" y1="567.8" x2="722" y2="483.5" stroke="#a4eca4" stroke-opacity="0.75" stroke-width="8.5" stroke-linecap="round"/>
<line x1="722" y1="483.5" x2="811.3" y2="588.3" stroke="#a4eca4" stroke-opacity="0.75" stroke-width="8.5" stroke-linecap="round"/>
<line x1="530.1" y1="462.4" x2="633.5" y2="567.8" stroke="#000" stroke-width="4" stroke-dasharray="15 6"/>
<line x1="633.5" y1="567.8" x2="722" y2="483.5" stroke="#000" stroke-width="4" stroke-dasharray="15 6"/>
<line x1="722" y1="483.5" x2="811.3" y2="588.3" stroke="#000" stroke-width="4" stroke-dasharray="15 6"/>
<path d="M545.5,513 Q704.8,454.9 810.5,588" fill="none" stroke="#111" stroke-width="1.05"/>
<path d="M800.1,595.4 L819.6,580.6 M800.1,595.4 L801.7,597.6 M819.6,580.6 L821.2,582.8" fill="none" stroke="#222" stroke-width="1"/>
<polygon points="198.20,582.49 198.05,612.59 195.15,612.58 199.60,623.60 204.15,612.62 201.25,612.61 201.40,582.51" fill="#ab2828" stroke="#8f1f1f" stroke-width="0.7" stroke-linejoin="miter"/>
<polygon points="416.30,619.00 416.30,594.80 418.50,594.80 414.50,584.30 410.50,594.80 412.70,594.80 412.70,619.00" fill="#2581d3" stroke="#1d6db5" stroke-width="0.7" stroke-linejoin="miter"/>
<polygon points="531.80,518.02 532.01,494.12 533.76,494.13 530.10,483.60 526.26,494.07 528.01,494.08 527.80,517.98" fill="#f7ab45" stroke="#e0952f" stroke-width="0.7" stroke-linejoin="miter"/>
<rect x="165.3" y="555.3" width="68.70" height="23.40" rx="4.5" fill="#ab2828" stroke="#4d0f6b" stroke-width="2"/>
<text x="170.00" y="571.91" font-size="14.5" fill="#fff" textLength="58.0" lengthAdjust="spacing" font-weight="350">突破缺口</text>
<rect x="380.9" y="622.1" width="68.10" height="22.90" rx="4.5" fill="#2581d3" stroke="#2a1577" stroke-width="2"/>
<text x="385.60" y="639.26" font-size="14.5" fill="#fff" textLength="57.3" lengthAdjust="spacing" font-weight="350">中继缺口</text>
<rect x="495.5" y="522.1" width="68.10" height="22.40" rx="4.5" fill="#f7ab45" stroke="#4d0f6b" stroke-width="2"/>
<text x="500.30" y="538.36" font-size="14.5" fill="#1a1a1a" textLength="57.6" lengthAdjust="spacing" font-weight="400">竭尽缺口</text>
<circle cx="111.05" cy="706.4" r="11" fill="none" stroke="#000" stroke-width="2"/>
<text x="111.1" y="709.8" text-anchor="middle" font-size="12.2" fill="#222">0</text>
<circle cx="178.9" cy="610.7" r="11" fill="none" stroke="#000" stroke-width="2"/>
<text x="179.0" y="614.1" text-anchor="middle" font-size="12.2" fill="#222">1</text>
<circle cx="210.1" cy="655.4" r="11" fill="none" stroke="#000" stroke-width="2"/>
<text x="210.2" y="658.8" text-anchor="middle" font-size="12.2" fill="#222">2</text>
<circle cx="382" cy="538.3" r="11" fill="none" stroke="#000" stroke-width="2"/>
<text x="382.1" y="541.7" text-anchor="middle" font-size="12.2" fill="#222">3</text>
<circle cx="404.6" cy="604.3" r="11" fill="none" stroke="#000" stroke-width="2"/>
<text x="404.7" y="607.7" text-anchor="middle" font-size="12.2" fill="#222">4</text>
<circle cx="531.1" cy="453.4" r="11" fill="none" stroke="#000" stroke-width="2"/>
<text x="531.2" y="456.8" text-anchor="middle" font-size="12.2" fill="#222">5</text>
</svg></body></html>
